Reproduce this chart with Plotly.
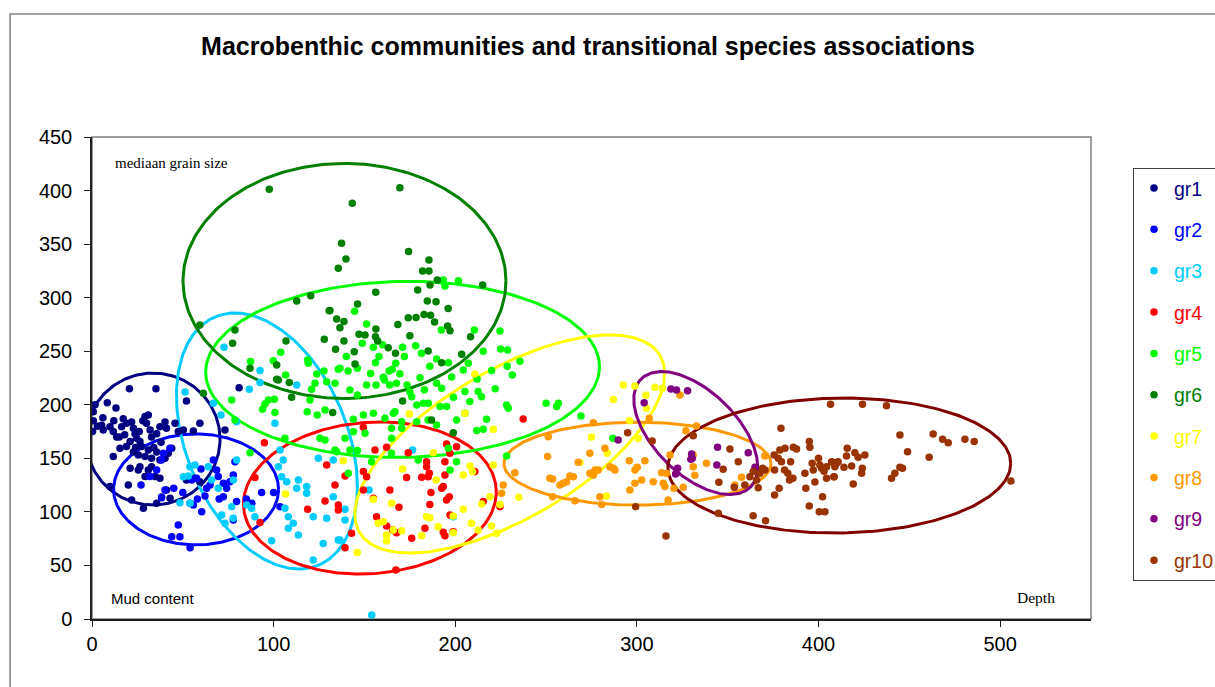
import numpy as np
import plotly.graph_objects as go

# ---- sample points per community group: (mud content / depth axis, median grain size) ----
gr1 = [(20.6,215),(35.2,215),(52,203.5),(8.4,202),(13.2,197),(1.7,200),(0.7,193.6),(0.7,185),(0.3,175),
       (5.3,181),(6.2,176.5),(9.9,179.6),(11.7,175),(13.6,170),(16.3,179.6),(17.2,187),(19,182.7),(21.8,184),
       (22.8,178),(23.7,173),(24.6,168.7),(26.4,165.6),(29.2,189),(31,190.5),(30,182.7),(32,176.5),(32.8,170),
       (35.6,173),(37.4,179.6),(40.2,184),(41,178),(45.7,182.7),(47.5,175),(50.3,176.5),(55.8,175.5),(59.4,182.7),
       (73.2,176.5),(11.7,151.6),(15.4,159.4),(19,161),(21,165.6),(22.8,156),(25.5,153),(27.3,161),(29.2,151.6),
       (31,157.8),(32.8,150),(35.6,156),(37.4,148.5),(40.2,150),(42,154.7),(43.9,159.4),(26.4,142.2),(25.5,139),
       (29.2,133),(31,139),(32.8,142.2),(34.7,133),(37.4,131.3),(21,140.8),(20,125),(21.8,111),(28.3,103.3),
       (35.6,108),(38.3,114),(41,120.4),(43,112.7),(9.9,123.6),(52,129.8),(56.7,131.3),(59.4,128.2),(81,216),
       (15,170),(18,172),(26,175),(28,185),(34,160),(38,165),(24,160),(12,185),(6,188),(3,180)]

gr2 = [(39.3,154.7),(42.9,159.4),(38.3,148.5),(35.6,139),(54.9,129.8),(57.6,131.3),(63.1,122),(62.2,114.8),
       (54,108),(55.8,106.4),(60.4,100.2),(66.8,148.5),(68.6,139),(69.5,133),(72.3,126.7),(74.1,122),(75.9,128.2),
       (77.8,134.5),(78.7,146.9),(72.3,114.2),(77.8,92.4),(79.6,109.6),(93.4,118),(103.5,104.9),(47.5,87.8),
       (43.9,76.9),(48.4,76.9),(54,66.6),(38.3,113.3),(40.2,120.4),(31.9,133),(27,125),(45,122),(50,118),
       (58,112),(65,125),(70,112),(85,112),(88,108),(100,118),(60,140)]

gr3 = [(51.2,212),(86.6,214.4),(92.5,220.7),(112.7,218.5),(66.8,201.4),(71,190.5),(79.6,184.2),(100.7,182.7),
       (103.5,157.8),(105.3,148.5),(53.9,142.2),(56.7,143.8),(50.3,132.9),(53,133.5),(64,142.2),(65.9,129.8),
       (69.5,122),(79.6,148.5),(77.8,129.8),(76.9,104.9),(71.4,97.1),(73.2,89.3),(77.8,94),(85.1,106.4),
       (87.9,103.3),(89.7,95.5),(102.6,142.2),(104.4,132.9),(107.2,128.2),(113.6,129.8),(112.7,122),(118.2,123.6),
       (118.2,117.3),(106.2,103.3),(108.1,95.5),(110.8,89.3),(108.1,84.7),(113.6,78.4),(121.8,95.5),(129.2,94),
       (124.6,150),(132.8,148.5),(127.3,70.6),(98.9,73.1),(121.8,55.1),(135.6,73.8),(48.4,108.6),(54,108),
       (176.5,157.8),(152.5,120.4),(132.8,114.2),(139.3,102.4),(139.3,92.4),(198.9,95.5),(136.5,73.8),(154,3.7),
       (72.7,253.6),(92.5,231.9)]

gr4 = [(94.9,164.6),(89.7,132.2),(92.5,90),(129.2,143.8),(133.8,125.1),(128.3,110.2),(118.7,102.4),(135.6,106.4),
       (149.4,179),(155.8,157.8),(162.2,160.3),(174.1,155.3),(184.2,146.9),(194.3,146.9),(195.2,163.4),(200.7,160.9),
       (197,154.7),(149.4,137.6),(151.2,132.9),(139.3,133.5),(135.6,101.8),(149.4,120.4),(154.9,112.7),(164,120.4),
       (169,104.3),(156.7,95.5),(162.2,86.8),(167.7,80.6),(165.5,83.1),(176,75.3),(183.3,84.7),(186,107),
       (186.6,118),(192.5,122),(193.4,123.6),(195.2,111),(196.7,114.2),(194.3,134.5),(185.1,132.9),(181.5,132.3),
       (173.2,132),(185.7,136),(197.1,97),(193.4,80.9),(194.3,77.8),(198.9,81.5),(215.4,109.6),(210.8,137.6),
       (224.6,104.9),(142.9,80),(139.3,66.6),(167.3,45.8),(237.4,186.7),(184.2,142.2)]

gr5 = [(87.3,240.3),(99.8,241.2),(103.9,249),(118.7,241.8),(119.1,238.7),(106.6,227.8),(127.7,231.6),(135.6,233.1),
       (193.4,316.5),(201.7,315.9),(194.3,310.9),(144.6,287.4),(151.2,275.3),(148.8,257.4),(154.9,253.6),(160,256.1),
       (171,253.6),(178.2,255.2),(181.4,248.1),(192.3,269.8),(210.5,269.8),(224.6,268.9),(225,252.1),(228.8,251.2),
       (215.4,249.9),(235.6,240.6),(228.6,235.9),(231.4,227.9),(207.2,238.7),(204.4,232.5),(196.2,239.3),(189.7,242.8),
       (167.2,238.7),(163.6,231.6),(165.3,233.1),(169.5,228.9),(156.1,239.3),(153.4,229.3),(146.1,234),(141,231.6),
       (136.5,234),(180.6,225.3),(160.4,225.6),(189.7,220),(192.5,215.4),(205.3,212.3),(212.6,212.3),(214.5,207.6),
       (228.3,199.8),(229.2,196.7),(250,201.4),(256.8,201.4),(255.8,198.3),(269.2,189.5),(133.8,220),(142,213.8),
       (146.1,209.1),(151.2,218.5),(156.4,218.5),(161,223.2),(163.9,218.5),(167.6,220),(173.5,218.5),(176,207.6),
       (178.8,199.8),(182.5,201.4),(185.1,201.4),(191.6,198.3),(195.2,198.3),(200.7,185.8),(205.3,192),(217.2,186.4),
       (211.8,175.9),(215.4,177.1),(189.7,181.1),(185.1,185.8),(178.8,184.2),(170.5,184.2),(166.8,193.6),(165.9,192),
       (161.3,187.4),(154.9,192),(149.4,190.5),(143.9,186.4),(150.3,173.4),(143.9,174.9),(139.3,168.7),(164.9,178),
       (170.5,178),(164.9,168.7),(142,157.8),(133.8,157.8),(146.1,157.2),(153.9,146.9),(164.9,154.7),(179.6,148.5),
       (196.2,159.4),(200.7,146.9),(197.1,139.1),(228.3,152.2),(141.1,136),(76.9,204.5),(93.9,195.8),(95.2,200.7),
       (97.1,204.5),(100.4,205.1),(100.7,192.7),(106.2,168.7),(87,155.3),(120.9,214.4),(122.8,220),(123.7,228.8),
       (120,204.5),(118.5,193.6),(124,190.5),(128.3,195.1),(129.2,221.6),(125.5,168.7),(128.3,167.1),(134.7,156.2),
       (78.7,185.8),(286.8,168.7),(158,245),(172,245),(186,236),(198,226),(212,224),(220,232),(140,245),(175,212),
       (183,214),(199,207),(208,203),(222,215)]

gr6 = [(97.6,401.2),(137.4,350.8),(135.6,327.4),(112.7,296.9),(120.4,301.9),(130.6,287.9),(134.7,280.1),(136.5,272),
       (59.4,274.5),(78.7,269.8),(77.4,257.4),(106.8,259.6),(127.9,261.1),(134.1,251.8),(87,234),(101.7,237.2),
       (101.7,223.8),(169.5,402.7),(143.3,388.1),(139.8,336.1),(174.3,343),(185.5,335.2),(182,324.9),(185.5,324.9),
       (190.1,316.5),(215.1,311.8),(179.3,307.2),(156.2,305),(186.1,311.8),(184.6,296.9),(189.4,296.3),(196.1,290),
       (146.2,294.1),(131,288),(138.7,277.8),(182.8,284.3),(186.4,283.7),(188.6,277.2),(174.1,281.2),(178.4,281.5),
       (168.4,275),(156.3,270.8),(156.1,263.6),(157.3,259.6),(147,265.8),(150.3,265.2),(138.7,259.6),(144.4,249.6),
       (163.1,253.3),(167.1,248.1),(175,264.5),(185.1,250.2),(195.8,273.5),(197.1,269.2),(208.4,263.6),(203.5,247.1),
       (192.5,239.3),(144.8,238.1),(61.3,210.7),(102.6,223.1),(108.6,220.7),(109.9,207),(132.5,192.7),(171,203.5),
       (186.9,185.8),(198.9,174)]

gr7 = [(292.5,218.5),(298.9,217.6),(309.9,216.3),(314.1,215.4),(305.3,196.7),(300.7,168.7),(283.7,154.7),(268.6,146),
       (283.3,114.8),(210.8,228.8),(174.7,191.4),(205.3,192),(220.9,177.1),(187.9,155.3),(138.3,147.8),(171,140),
       (189.5,129.8),(204.4,134.5),(209.5,137.6),(208.1,142.9),(220.9,143.8),(154.9,111.7),(165,108),(214.5,107.4),
       (224.6,106.8),(219.1,114.2),(204.4,102.4),(184.2,95.5),(186,94.6),(198.9,96.2),(160.4,90.9),(157.6,89.3),
       (165.9,83.1),(170.5,82.5),(162.2,78.4),(162.2,72.8),(181.5,77.8),(190.6,86.2),(198.9,80.6),(208.9,89.3),
       (212.6,83.1),(219.9,86.8),(222.8,80),(146,62.2),(235,113.6),(106.6,116.7),(305,209),(296,185),(275,170),
       (287,205)]

gr8 = [(276,183.3),(274.1,154.7),(282.4,159.4),(276.9,139.1),(276,134.5),(278.7,139.1),(287,140.7),(287.9,139.1),
       (285.1,142.2),(295.8,147.8),(304.4,147.8),(298.9,139.1),(300.2,141.6),(296.1,120.4),(298.9,126.7),(302.6,129.8),
       (309,128.2),(313.6,136.6),(314.5,126.7),(315.4,123.6),(317.2,111.1),(279.6,114.2),(280.6,107),(306.8,187.4),
       (323.7,209.2),(327,175.8),(331,153.1),(331,142.2),(331.9,134.1),(338.3,145.3),(325.5,122.9),(357.6,132.3),
       (353.9,125.1),(370.4,152.2),(332.8,180.2),(320.4,122),(318.2,153.1),(316.3,136),(251.2,170.2),(250.8,151.6),
       (232.8,136.6),(253.6,130.7),(252.1,131.3),(257.6,125.1),(261.3,128.2),(263.1,133.5),(265,132.9),(259.4,126.7),
       (267.7,146.3),(226.4,125.1),(225.5,117.3),(253.6,114.2),(265.9,110.5),(274.1,136)]

gr9 = [(318.7,214.8),(321.8,213.8),(327.9,213.2),(304,202),(289.7,167.1),(330.1,154),(330.5,150),(329.7,149.1),
       (344.4,160.3),(344,143.8),(361.3,155.3),(365,141.6),(322.4,140.7),(321.3,135.4)]

gr10 = [(294.9,174),(308.4,166.2),(331,171.2),(351.2,158.7),(347.5,139.7),(355.8,146.9),(345.1,127.6),(344.8,98.7),
        (353.6,122.9),(359.4,125.1),(362.2,132.9),(364,137.6),(365.9,129.8),(367.7,136),(369.2,140.7),(370.5,139.1),
        (366.8,122.6),(364,96.5),(370.8,91.8),(316,77.5),(379.3,178),(375.6,153.1),(378.7,157.8),(381.5,159.4),
        (386.1,160.3),(387.9,158.7),(394.9,165.6),(395.2,160.3),(377.8,150),(379.6,146.9),(384.6,146.9),(375.8,139.1),
        (381.3,139.1),(383.1,136),(385.9,131.3),(384,129.8),(378.3,122),(375.8,115.8),(392.5,136),(396.5,145.3),
        (397.1,139.1),(401.7,140.7),(400.7,143.8),(404.4,142.2),(407.2,146.9),(409.9,145.3),(404.4,131.3),(408.6,132.9),
        (393,122),(402.2,114.2),(394.9,105.5),(400.4,100.2),(403.5,100.2),(406.6,200.4),(299.3,104.9),
        (424.2,200.4),(437.4,199.2),(444.8,171.8),(463.1,172.7),(468.3,167.8),(471.4,164.6),(480.6,167.8),(485.7,165.6),
        (449,156.2),(460.9,151),(415.8,159.4),(415.4,152.2),(420,155.3),(421.8,151),(425.5,153.1),(408.1,146),
        (410.8,146.9),(409,142.2),(414,141.6),(418.2,142.9),(424.1,140.7),(423.7,136),(408.4,132.9),(419.1,126),
        (442,136),(444.8,141.6),(446.2,140.7),(440.2,131.3),(505.9,128.9),(400,150),(403,138),(398,128)]

groups = ["gr1", "gr2", "gr3", "gr4", "gr5", "gr6", "gr7", "gr8", "gr9", "gr10"]
points = [gr1, gr2, gr3, gr4, gr5, gr6, gr7, gr8, gr9, gr10]
point_colors = ["#000080", "#0000FF", "#00CCFF", "#FF0000", "#00FF00",
                "#008000", "#FFFF00", "#FF9900", "#800080", "#993300"]
ring_colors = ["#000080", "#0000FF", "#00CCFF", "#FF0000", "#00FF00",
               "#008000", "#FFFF00", "#FF9900", "#800080", "#800000"]

# association ellipses: centre, half-extent in x and y, and x/y correlation
ell_cx = [33.6, 57.3, 96.3, 153.0, 171.0, 139.0, 230.0, 300.3, 332.4, 411.4]
ell_cy = [168.0, 121.0, 166.2, 113.0, 233.0, 315.6, 163.4, 145.0, 173.6, 143.3]
ell_wx = [36.9, 45.4, 49.8, 69.6, 108.4, 88.9, 85.3, 73.5, 34.1, 94.4]
ell_hy = [61.6, 51.8, 119.5, 71.0, 82.2, 109.7, 101.8, 38.7, 57.4, 63.0]
ell_rho = [0.0, 0.0, -0.354, 0.08, 0.03, 0.0, 0.645, 0.0, -0.55, 0.03]

x_ticks = [0, 100, 200, 300, 400, 500]
y_ticks = [0, 50, 100, 150, 200, 250, 300, 350, 400, 450]


def ellipse_path(cx, cy, wx, hy, rho, n=240):
    t = np.linspace(0, 2 * np.pi, n)
    phi = np.arccos(rho)
    return cx + wx * np.cos(t), cy + hy * np.cos(t - phi)


fig = go.Figure()

for i in range(len(groups)):
    ex, ey = ellipse_path(ell_cx[i], ell_cy[i], ell_wx[i], ell_hy[i], ell_rho[i])
    fig.add_trace(go.Scatter(x=ex, y=ey, mode="lines",
                             line=dict(color=ring_colors[i], width=3),
                             showlegend=False, hoverinfo="skip"))

for i, g in enumerate(groups):
    xs = [p[0] for p in points[i]]
    ys = [p[1] for p in points[i]]
    fig.add_trace(go.Scatter(
        x=xs, y=ys, mode="markers",
        marker=dict(size=7.5, color=point_colors[i], line=dict(width=0)),
        name=f"<span style='color:{point_colors[i]}'>{g}</span>",
        legendgroup=g))

# plot-area frame and the outer chart frame
fig.add_shape(type="rect", xref="paper", yref="paper", x0=0, y0=0, x1=1, y1=1,
              line=dict(color="#808080", width=1.5), layer="below")
fig.add_shape(type="rect", xref="paper", yref="paper", x0=-0.082, y0=-0.3, x1=1.3, y1=1.2552,
              line=dict(color="#7F7F7F", width=1.5), layer="below")

fig.add_annotation(text="mediaan grain size", xref="paper", yref="paper",
                   x=0.021, y=0.946, xanchor="left", yanchor="middle", showarrow=False,
                   font=dict(family="Liberation Serif", size=15, color="black"))
fig.add_annotation(text="Mud content", xref="paper", yref="paper",
                   x=0.017, y=0.0415, xanchor="left", yanchor="middle", showarrow=False,
                   font=dict(family="Liberation Sans", size=15, color="black"))
fig.add_annotation(text="Depth", xref="paper", yref="paper",
                   x=0.924, y=0.0436, xanchor="left", yanchor="middle", showarrow=False,
                   font=dict(family="Liberation Serif", size=15.5, color="black"))

fig.update_layout(
    width=1215, height=687,
    margin=dict(l=92, r=124, t=137, b=68, autoexpand=False),
    paper_bgcolor="white", plot_bgcolor="white",
    font=dict(family="Liberation Sans", color="black"),
    title=dict(text="<b>Macrobenthic communities and transitional species associations</b>",
               x=588 / 1215, xref="container", xanchor="center",
               y=1 - 46 / 687, yref="container", yanchor="middle",
               font=dict(family="Liberation Sans", size=25, color="black")),
    showlegend=True,
    legend=dict(x=(1133 - 92) / 999, y=0.936, xanchor="left", yanchor="top",
                bordercolor="#404040", borderwidth=1, bgcolor="white",
                font=dict(family="Liberation Sans", size=19.5),
                tracegroupgap=13, itemsizing="trace"),
    xaxis=dict(range=[0, 550], tickvals=x_ticks, showgrid=False, zeroline=False,
               showline=True, linecolor="#202020", linewidth=1.5,
               ticks="outside", ticklen=6, tickcolor="#202020",
               ticklabelstandoff=0,
               tickfont=dict(family="Liberation Sans", size=20, color="black")),
    yaxis=dict(range=[0, 450], tickvals=y_ticks, showgrid=False, zeroline=False,
               showline=True, linecolor="#202020", linewidth=1.5,
               ticks="outside", ticklen=6, tickcolor="#202020",
               ticklabelstandoff=8,
               tickfont=dict(family="Liberation Sans", size=20, color="black")),
)

fig.write_html("out.html")
